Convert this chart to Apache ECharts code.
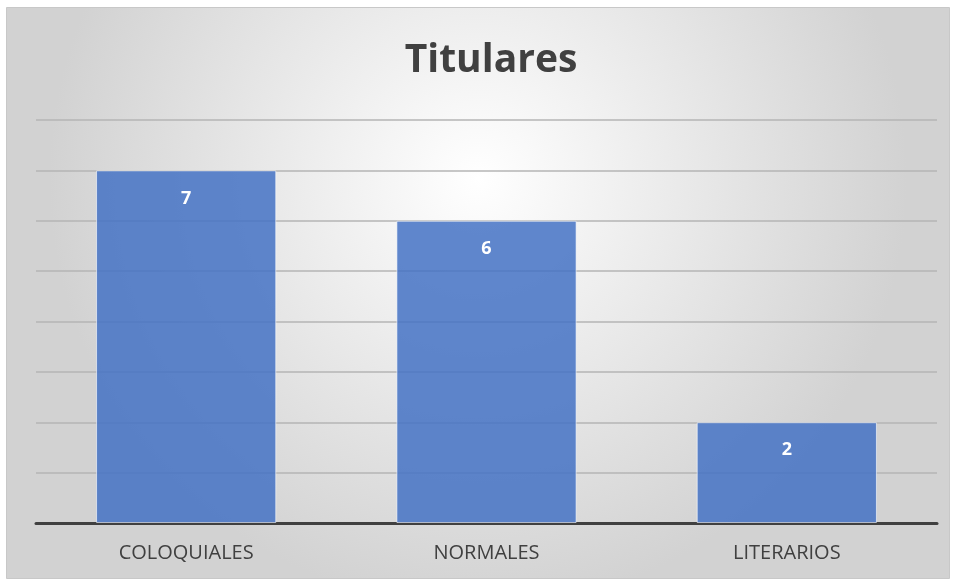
<!DOCTYPE html>
<html><head><meta charset="utf-8">
<script src="https://cdn.jsdelivr.net/npm/echarts@6/dist/echarts.min.js"></script>
<style>html,body{margin:0;padding:0;background:#fff}#c{width:956px;height:581px}</style>
</head><body><div id="c"></div>
<script>
const titleText = "Titulares";
const categories = ["COLOQUIALES", "NORMALES", "LITERARIOS"];
const values = [7, 6, 2];
const yMin = 0, yMax = 8, yStep = 1;

const chart = echarts.init(document.getElementById('c'));
chart.setOption({
  animation: false,
  graphic: [{
    type: 'rect', z: -10, silent: true,
    shape: { x: 6.5, y: 7.5, width: 943, height: 571 },
    style: {
      fill: { type: 'radial', x: 0.5, y: 0.3, r: 0.75,
        colorStops: [{ offset: 0, color: '#ffffff' }, { offset: 1, color: '#d2d2d2' }] },
      stroke: '#c8c8c8', lineWidth: 1
    }
  }],
  title: {
    text: titleText, left: 486, top: 36, textAlign: 'center',
    textStyle: { fontFamily: 'Open Sans', fontWeight: 'bold', fontSize: 39, color: '#404040' }
  },
  grid: { left: 36, right: 19, top: 120, bottom: 58 },
  xAxis: {
    type: 'category', data: categories,
    axisLine: { lineStyle: { color: '#404040', width: 3 } },
    axisTick: { show: false },
    axisLabel: { margin: 20, fontSize: 20, color: '#404040', fontFamily: 'Open Sans' }
  },
  yAxis: {
    type: 'value', min: yMin, max: yMax, interval: yStep,
    axisLabel: { show: false }, axisLine: { show: false }, axisTick: { show: false },
    splitLine: { lineStyle: { color: '#b4b4b4', width: 1.5 } }
  },
  series: [{
    type: 'bar', data: values, barWidth: '60%',
    itemStyle: { color: 'rgba(68,114,196,0.85)', borderColor: 'rgba(255,255,255,0.6)', borderWidth: 1 },
    label: { show: true, position: 'insideTop', distance: 19, color: '#ffffff',
      fontWeight: 'bold', fontSize: 18, fontFamily: 'Open Sans' }
  }]
});
</script></body></html>
